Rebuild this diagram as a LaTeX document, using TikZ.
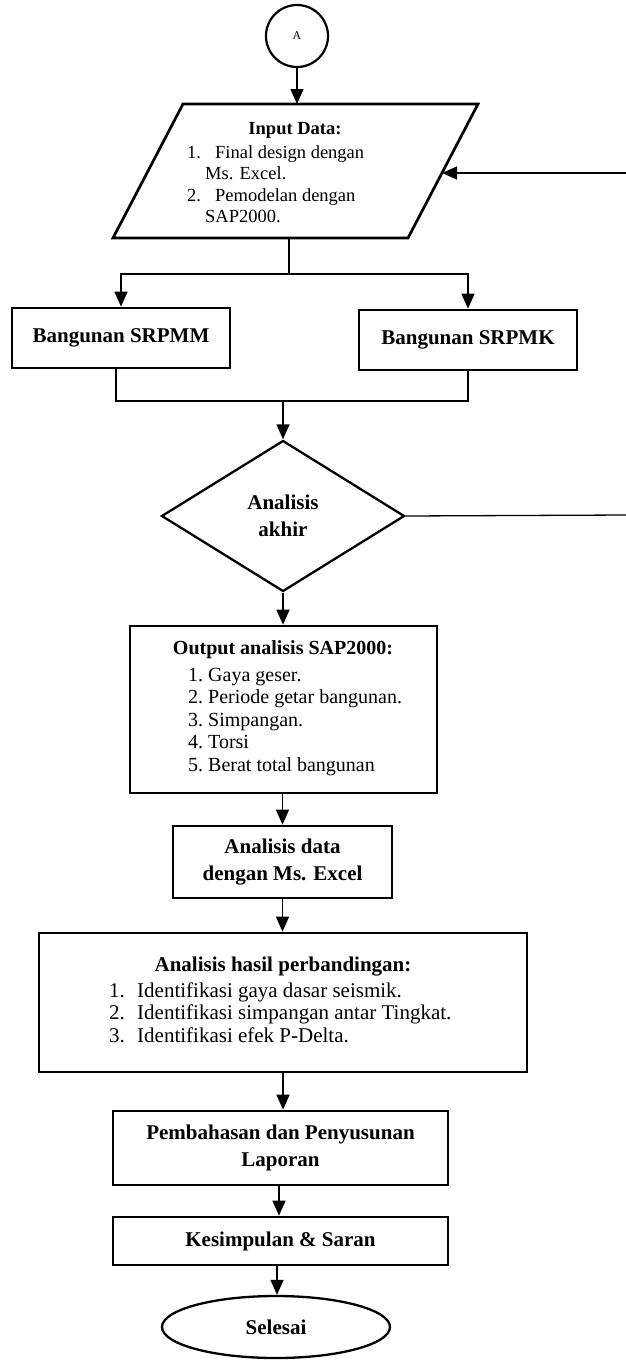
\documentclass[tikz,border=0pt]{standalone}
\usepackage{fontspec}
\setmainfont{Liberation Serif}
\usetikzlibrary{shapes.geometric,arrows.meta}
\begin{document}
\begin{tikzpicture}[x=1pt,y=-1pt,
  box/.style={draw,line width=2.7pt,inner sep=0pt,align=center},
  conn/.style={line width=1.3pt},
  arr/.style={conn,-{Triangle[width=13pt,length=15pt]}},
  txt/.style={inner sep=0pt},
  fa/.style={font=\fontsize{21}{26.5}\selectfont\bfseries},
]
\useasboundingbox (0,0) rectangle (626,1360);

% connector A
\node[circle,draw,line width=2.2pt,minimum size=62pt,inner sep=0pt,font=\fontsize{12}{14}\selectfont] (A) at (297,36) {A};

% input parallelogram
\coordinate (pTL) at (183,104);
\coordinate (pTR) at (478,104);
\coordinate (pBR) at (408,238);
\coordinate (pBL) at (113,238);
\draw[line width=2.7pt,line join=miter] (pTL) -- (pTR) -- (pBR) -- (pBL) -- cycle;
\node[txt,font=\fontsize{18.5}{21.5}\selectfont\bfseries] (inTitle) at (295,130) {Input Data:};
\node[txt,anchor=west,align=left,font=\fontsize{18.5}{21.5}\selectfont] (inList) at (187,184)
  {\makebox[28pt][l]{1.}Final design dengan\\
   \hspace*{18pt}Ms. Excel.\\
   \makebox[28pt][l]{2.}Pemodelan dengan\\
   \hspace*{18pt}SAP2000.};
\coordinate (inTop) at (297,104);
\coordinate (inBot) at (289,238);
\coordinate (inRight) at (442,173);

% branch boxes
\node[box,fa,minimum width=218pt,minimum height=60pt] (srpmm) at (121,338) {Bangunan SRPMM};
\node[box,fa,minimum width=218pt,minimum height=60pt] (srpmk) at (468,340) {Bangunan SRPMK};

% decision
\node[diamond,draw,line width=2.3pt,minimum width=243pt,minimum height=151pt,inner sep=0pt,fa,align=center] (dec) at (283,516) {Analisis\\akhir};

% output box
\node[box,minimum width=307pt,minimum height=167pt] (out) at (283.5,709.5) {};
\node[txt,font=\fontsize{20}{22.5}\selectfont\bfseries] (outTitle) at (283,650) {Output analisis SAP2000:};
\node[txt,anchor=west,align=left,font=\fontsize{20}{22.5}\selectfont] (outList) at (188,722)
  {\makebox[20pt][l]{1.}Gaya geser.\\
   \makebox[20pt][l]{2.}Periode getar bangunan.\\
   \makebox[20pt][l]{3.}Simpangan.\\
   \makebox[20pt][l]{4.}Torsi\\
   \makebox[20pt][l]{5.}Berat total bangunan};

% data box
\node[box,fa,minimum width=219pt,minimum height=72pt] (data) at (282.5,862) {Analisis data\\dengan Ms. Excel};

% comparison box
\node[box,minimum width=488pt,minimum height=139pt] (hasil) at (283,1002.5) {};
\node[txt,font=\fontsize{21}{22.7}\selectfont\bfseries] (hasilTitle) at (283,967) {Analisis hasil perbandingan:};
\node[txt,anchor=west,align=left,font=\fontsize{21}{22.7}\selectfont] (hasilList) at (109,1012.5)
  {\makebox[28pt][l]{1.}Identifikasi gaya dasar seismik.\\
   \makebox[28pt][l]{2.}Identifikasi simpangan antar Tingkat.\\
   \makebox[28pt][l]{3.}Identifikasi efek P-Delta.};

% report boxes
\node[box,fa,minimum width=335pt,minimum height=74pt] (bahas) at (280.5,1148) {Pembahasan dan Penyusunan\\Laporan};
\node[box,fa,minimum width=335pt,minimum height=48pt] (kesim) at (280.5,1241) {Kesimpulan \& Saran};

% end
\node[ellipse,draw,line width=2.3pt,minimum width=228pt,minimum height=62pt,inner sep=0pt,fa] (end) at (276,1327) {Selesai};

% loop-back free ends
\coordinate (rin) at (626,173);
\coordinate (rout) at (626,515);
\coordinate (split) at (289,274);
\coordinate (merge) at (283,401);

% connectors
\draw[arr] (A) -- (inTop);
\draw[conn] (inBot) -- (split);
\draw[arr] (split) -| (srpmm.north);
\draw[arr] (split) -| (srpmk.north);
\draw[conn] ([xshift=-5pt]srpmm.south) |- (merge) -| (srpmk.south);
\draw[arr] (merge) -- (dec.north);
\draw[conn] (dec.east) -- (rout);
\draw[arr] (rin) -- (inRight);
\draw[arr] (dec.south) -- (dec.south |- out.north);
\draw[arr] (out.south -| data.north) -- (data.north);
\draw[arr] (data.south) -- (data.south |- hasil.north);
\draw[arr] (hasil.south -| 283,0) -- (bahas.north -| 283,0);
\draw[arr] (bahas.south -| 279,0) -- (kesim.north -| 279,0);
\draw[arr] (kesim.south -| 277,0) -- (end.north -| 277,0);
\end{tikzpicture}
\end{document}
